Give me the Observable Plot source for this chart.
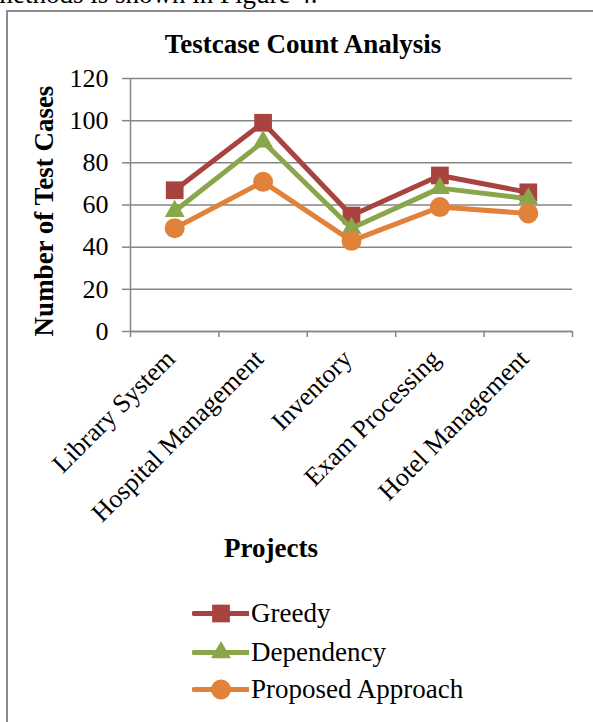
<!DOCTYPE html>
<html>
<head>
<meta charset="utf-8">
<script src="https://cdn.jsdelivr.net/npm/d3@7"></script>
<script src="https://cdn.jsdelivr.net/npm/@observablehq/plot@0.6"></script>
<style>
  body { margin: 0; background: #fff; }
  #wrap { position: relative; width: 593px; height: 722px; overflow: hidden; font-family: "Liberation Serif", "Times New Roman", serif; color: #000; }
  .abs { position: absolute; white-space: nowrap; }
  #frame { left: 6px; top: 10px; width: 700px; height: 800px; border-left: 2px solid #8a8a8a; border-top: 2px solid #8a8a8a; }
  #plot { position: absolute; left: 0; top: 0; }
  #plot svg { font-family: "Liberation Serif", "Times New Roman", serif; }
  .legrow { position: absolute; left: 192px; height: 30px; display: flex; align-items: center; font-size: 27px; }
  .legrow svg { margin-right: 2px; }
</style>
</head>
<body>
<div id="wrap">
  <div class="abs" style="left:-8px; top:-21px; font-size:27px;">methods is shown in Figure 4.</div>
  <div class="abs" id="frame"></div>
  <div id="plot"></div>
  <div class="abs" style="left:0; width:606px; top:29px; text-align:center; font-size:27px; font-weight:bold;">Testcase Count Analysis</div>
  <div class="abs" style="left:44px; top:211px; transform:translate(-50%,-50%) rotate(-90deg); font-size:27px; font-weight:bold;">Number of Test Cases</div>
  <div class="abs" style="left:271px; top:548px; transform:translate(-50%,-50%); font-size:27px; font-weight:bold;">Projects</div>
  <div id="legend"></div>
</div>
<script>
const categories = ["Library System", "Hospital Management", "Inventory", "Exam Processing", "Hotel Management"];
const greedy = [67, 99, 55, 74, 66];
const dependency = [57, 90, 49, 68, 63];
const proposed = [49, 71, 43, 59, 56];
const seriesNames = ["Greedy", "Dependency", "Proposed Approach"];
const seriesColors = ["#A8433F", "#8AA64A", "#E0823A"];
const seriesSymbols = ["square", "triangle", "circle"];
const seriesR = [10, 7.4, 10];
const yTicks = [0, 20, 40, 60, 80, 100, 120];

const seriesValues = [greedy, dependency, proposed];
const rows = seriesValues.map((vals, s) => vals.map((v, i) => ({i: i + 0.5, value: v, series: seriesNames[s]})));

const gray = "#868686";
const marks = [
  Plot.gridY(yTicks, {stroke: gray, strokeOpacity: 1, strokeWidth: 1.5}),
  Plot.ruleX([0], {stroke: gray, strokeWidth: 1.5}),
  Plot.ruleY([0], {stroke: gray, strokeWidth: 1.5}),
  Plot.axisY(yTicks, {tickSize: 8, tickPadding: 14, fontSize: 26, stroke: gray, strokeWidth: 1.5, color: "#000", label: null}),
  Plot.axisX(d3.range(categories.length + 1), {tickSize: 6, tickFormat: () => "", stroke: gray, strokeWidth: 1.5, label: null}),
  Plot.axisX(d3.range(categories.length).map(i => i + 0.5), {tickSize: 0, tickPadding: 23, dx: -4, tickRotate: -45, fontSize: 26, color: "#000", tickFormat: d => categories[Math.floor(d)], label: null})
];
rows.forEach((data, s) => {
  marks.push(Plot.line(data, {x: "i", y: "value", stroke: seriesColors[s], strokeWidth: 5}));
  marks.push(Plot.dot(data, {x: "i", y: "value", symbol: () => seriesSymbols[s], r: seriesR[s], fill: seriesColors[s], stroke: "none"}));
});

const chart = Plot.plot({
  width: 593,
  height: 560,
  marginLeft: 130,
  marginRight: 21,
  marginTop: 78,
  marginBottom: 229,
  x: {type: "linear", domain: [0, categories.length]},
  y: {domain: [0, 120]},
  symbol: {type: "identity"},
  marks
});
document.getElementById("plot").appendChild(chart);

// legend
const legend = document.getElementById("legend");
const legendY = [598, 637, 674];
seriesNames.forEach((name, s) => {
  const row = document.createElement("div");
  row.className = "legrow";
  row.style.top = legendY[s] + "px";
  const sw = Plot.plot({
    width: 57, height: 30, margin: 0,
    x: {domain: [0, 2], axis: null}, y: {domain: [0, 1], axis: null},
    symbol: {type: "identity"},
    marks: [
      Plot.line([{x: 0.05, y: 0.5}, {x: 1.95, y: 0.5}], {x: "x", y: "y", stroke: seriesColors[s], strokeWidth: 5, strokeLinecap: "round"}),
      Plot.dot([{x: 1, y: 0.5}], {x: "x", y: "y", symbol: () => seriesSymbols[s], r: seriesR[s], fill: seriesColors[s], stroke: "none"})
    ]
  });
  row.appendChild(sw);
  const t = document.createElement("span");
  t.textContent = name;
  row.appendChild(t);
  legend.appendChild(row);
});
</script>
</body>
</html>
